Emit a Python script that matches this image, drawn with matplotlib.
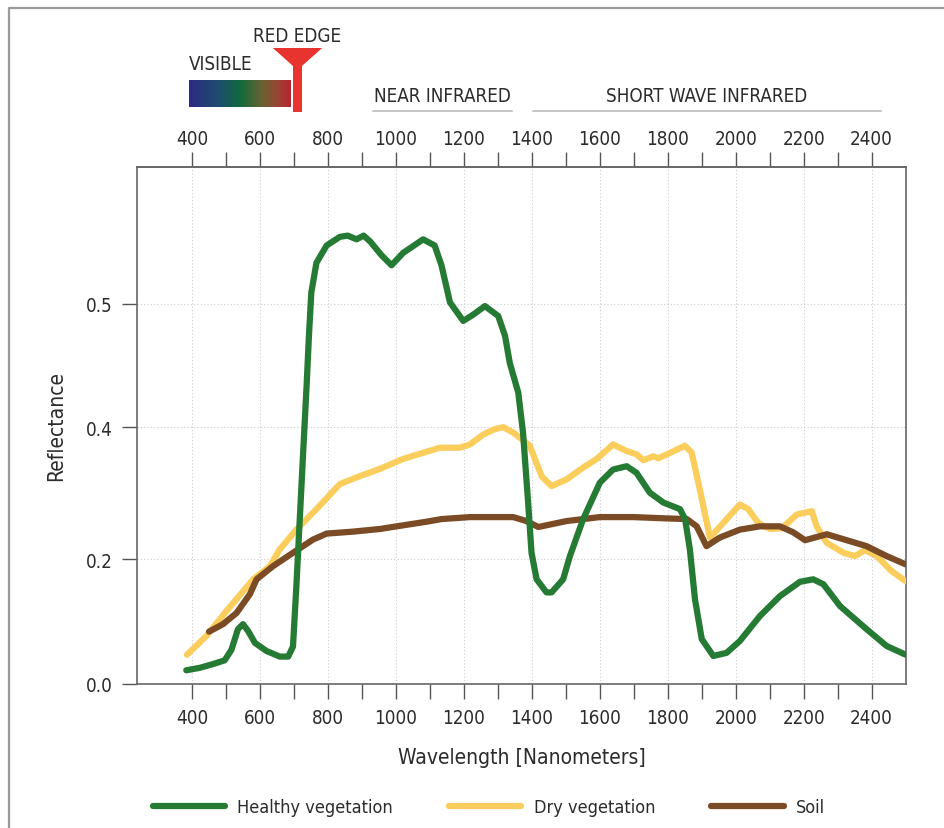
import numpy as np
import matplotlib
matplotlib.use("Agg")
import matplotlib.pyplot as plt
from matplotlib import font_manager
from matplotlib.colors import LinearSegmentedColormap
from matplotlib.lines import Line2D
from matplotlib.patches import Polygon, Rectangle
from matplotlib.ticker import FixedLocator, FixedFormatter
import matplotlib.transforms as mtransforms

# ---------------------------------------------------------------- data
healthy_nm = [383, 423, 462, 496, 516, 535, 550, 565, 585, 619, 658, 683, 697,
              707, 717, 727, 737, 744, 751, 766, 796, 835, 858, 884, 905, 925,
              958, 987, 1021, 1080, 1114, 1134, 1159, 1198, 1227, 1262, 1301,
              1321, 1335, 1360, 1374, 1389, 1399, 1414, 1443, 1458, 1492, 1512,
              1551, 1600, 1639, 1679, 1708, 1747, 1787, 1836, 1851, 1865, 1880,
              1900, 1934, 1973, 2012, 2071, 2130, 2189, 2228, 2258, 2307, 2385,
              2444, 2500]
healthy_refl = [0.022, 0.026, 0.032, 0.038, 0.055, 0.088, 0.096, 0.085, 0.066,
                0.053, 0.044, 0.044, 0.060, 0.157, 0.261, 0.362, 0.433, 0.474,
                0.509, 0.533, 0.547, 0.554, 0.555, 0.552, 0.555, 0.550, 0.539,
                0.531, 0.541, 0.552, 0.547, 0.531, 0.501, 0.486, 0.491, 0.498,
                0.490, 0.474, 0.452, 0.428, 0.392, 0.286, 0.210, 0.168, 0.147,
                0.147, 0.168, 0.205, 0.261, 0.316, 0.336, 0.341, 0.331, 0.301,
                0.286, 0.276, 0.261, 0.215, 0.136, 0.072, 0.045, 0.050, 0.069,
                0.109, 0.141, 0.164, 0.168, 0.160, 0.125, 0.088, 0.061, 0.047]

dry_nm = [385, 442, 501, 580, 629, 658, 707, 766, 835, 894, 953, 1021, 1129,
          1188, 1218, 1257, 1290, 1316, 1345, 1370, 1394, 1414, 1430, 1458,
          1502, 1551, 1591, 1639, 1679, 1708, 1728, 1757, 1772, 1806, 1850,
          1870, 1890, 1924, 1963, 2012, 2037, 2066, 2101, 2135, 2180, 2224,
          2238, 2268, 2317, 2351, 2380, 2415, 2459, 2500]
dry_refl = [0.047, 0.077, 0.117, 0.168, 0.189, 0.215, 0.245, 0.276, 0.314,
            0.326, 0.337, 0.352, 0.369, 0.369, 0.374, 0.389, 0.397, 0.400,
            0.392, 0.382, 0.372, 0.345, 0.325, 0.311, 0.321, 0.339, 0.352,
            0.374, 0.364, 0.359, 0.350, 0.356, 0.353, 0.361, 0.372, 0.362,
            0.316, 0.233, 0.255, 0.283, 0.276, 0.255, 0.246, 0.247, 0.268,
            0.273, 0.250, 0.225, 0.210, 0.205, 0.214, 0.205, 0.181, 0.165]

soil_nm = [450, 491, 531, 570, 590, 638, 697, 756, 796, 874, 953, 1002, 1090,
           1134, 1218, 1345, 1384, 1419, 1502, 1600, 1698, 1797, 1856, 1885,
           1914, 1953, 2012, 2071, 2130, 2169, 2204, 2268, 2346, 2385, 2444,
           2500]
soil_refl = [0.084, 0.096, 0.114, 0.144, 0.168, 0.189, 0.210, 0.230, 0.239,
             0.242, 0.246, 0.250, 0.257, 0.261, 0.264, 0.264, 0.258, 0.249,
             0.258, 0.264, 0.264, 0.262, 0.261, 0.250, 0.220, 0.233, 0.245,
             0.250, 0.250, 0.241, 0.229, 0.238, 0.226, 0.220, 0.205, 0.192]

series_labels = ["Healthy vegetation", "Dry vegetation", "Soil"]
series_colors = ["#257a34", "#fbcd5c", "#7b4b25"]

x_major = [400, 600, 800, 1000, 1200, 1400, 1600, 1800, 2000, 2200, 2400]
x_minor = [500, 700, 900, 1100, 1300, 1500, 1700, 1900, 2100, 2300]
y_ticks = [0.0, 0.2, 0.4, 0.5]
y_tick_labels = ["0.0", "0.2", "0.4", "0.5"]

# spectral bands (nm)
visible_band = (390, 690)
red_edge_nm = 710
nir_band = (932, 1341)
swir_band = (1403, 2427)

# ---------------------------------------------------------------- fonts
available = {f.name for f in font_manager.fontManager.ttflist}
if "Liberation Sans Narrow" in available:
    plt.rcParams["font.family"] = "Liberation Sans Narrow"
else:
    plt.rcParams["font.family"] = "DejaVu Sans"
    plt.rcParams["font.stretch"] = "condensed"

TXT = "#2b2b2b"
W, H = 944, 829
fig = plt.figure(figsize=(W / 100, H / 100), dpi=100)
ax = fig.add_axes([137 / W, 1 - 685 / H, (906 - 137) / W, (685 - 168) / H])

# y axis: tick values are spread at nearly even spacing
y_vals = [-1.0, 0.0, 0.2, 0.4, 0.5, 1.5]
y_pos = [-622.5, 0.0, 124.5, 256.5, 380.0, 1615.0]


def fwd(v):
    return np.interp(v, y_vals, y_pos)


def inv(p):
    return np.interp(p, y_pos, y_vals)


ax.set_yscale("function", functions=(fwd, inv))
ax.set_xlim(238, 2501)
ax.set_ylim(0.0, 0.6105)

for xs, ys, col, lab, z in [
    (dry_nm, dry_refl, series_colors[1], series_labels[1], 3),
    (soil_nm, soil_refl, series_colors[2], series_labels[2], 4),
    (healthy_nm, healthy_refl, series_colors[0], series_labels[0], 5),
]:
    ax.plot(xs, ys, color=col, lw=4.5, solid_capstyle="round",
            solid_joinstyle="round", zorder=z, label=lab)

# grid
for xv in x_major:
    ax.axvline(xv, color="#cccccc", lw=0.8, ls=(0, (1, 2)), zorder=1)
for yv in y_ticks[1:]:
    ax.axhline(yv, color="#cccccc", lw=0.8, ls=(0, (1, 2)), zorder=1)

# ticks
ax.xaxis.set_major_locator(FixedLocator(x_major))
ax.xaxis.set_minor_locator(FixedLocator(x_minor))
ax.yaxis.set_major_locator(FixedLocator(y_ticks))
ax.yaxis.set_major_formatter(FixedFormatter(y_tick_labels))
ax.yaxis.set_minor_locator(FixedLocator([]))
ax.tick_params(axis="both", which="both", direction="out", length=10.5,
               width=1.0, color="#555555", labelsize=13.5, labelcolor=TXT,
               pad=7)

top = ax.secondary_xaxis("top")
top.xaxis.set_major_locator(FixedLocator(x_major))
top.xaxis.set_minor_locator(FixedLocator(x_minor))
top.tick_params(axis="x", which="both", direction="out", length=10.5,
                width=1.0, color="#555555", labelsize=13.5, labelcolor=TXT,
                pad=3)
top.spines["top"].set_color("#666666")
top.spines["top"].set_linewidth(1.2)

for s in ax.spines.values():
    s.set_color("#666666")
    s.set_linewidth(1.2)

ax.set_xlabel("Wavelength [Nanometers]", fontsize=15, color=TXT, labelpad=14)
ax.set_ylabel("Reflectance", fontsize=15, color=TXT, labelpad=14)

# legend
handles = [Line2D([], [], color=c, lw=4.5, solid_capstyle="round")
           for c in series_colors]
fig.legend(handles, series_labels, loc="center", bbox_to_anchor=(0.518, 0.025),
           ncol=3, frameon=False, fontsize=13, handlelength=4.0,
           handletextpad=0.7, columnspacing=3.1, labelcolor=TXT)

# spectral band annotations above the top axis
bt = mtransforms.blended_transform_factory(ax.transData, fig.transFigure)


def fy(py):
    return 1 - py / H


grad = LinearSegmentedColormap.from_list(
    "vis", [(0.0, "#2d2a82"), (0.3, "#1e4e6e"), (0.5, "#0f6a3c"),
            (0.72, "#6b6234"), (0.87, "#9a4434"), (1.0, "#b7242e")])
x0 = ax.transData.transform((visible_band[0], 0))[0]
x1 = ax.transData.transform((visible_band[1], 0))[0]
gax = fig.add_axes([x0 / W, fy(108), (x1 - x0) / W, 27 / H])
gax.imshow(np.linspace(0, 1, 256)[None, :], aspect="auto", cmap=grad,
           extent=(0, 1, 0, 1))
gax.set_axis_off()

fig.text(visible_band[0], fy(65), "VISIBLE", transform=bt, ha="left",
         va="center", fontsize=13.5, color=TXT)

tri = Polygon([(red_edge_nm - 72, fy(49)), (red_edge_nm + 73, fy(49)),
               (red_edge_nm, fy(71))], closed=True, transform=bt,
              facecolor="#e8342e", edgecolor="none")
stem = Rectangle((red_edge_nm - 13, fy(113)), 26, fy(60) - fy(113),
                 transform=bt, facecolor="#e8342e", edgecolor="none")
fig.add_artist(tri)
fig.add_artist(stem)
fig.text(red_edge_nm, fy(36), "RED EDGE", transform=bt, ha="center",
         va="center", fontsize=13.5, color=TXT)

for (a, b), name in [(nir_band, "NEAR INFRARED"),
                     (swir_band, "SHORT WAVE INFRARED")]:
    fig.add_artist(Line2D([a, b], [fy(112), fy(112)], transform=bt,
                          color="#bdbdbd", lw=1.2))
    fig.text((a + b) / 2, fy(96), name, transform=bt, ha="center",
             va="center", fontsize=13.5, color=TXT)

# outer frame (left and top edges)
fig.add_artist(Line2D([9 / W, 9 / W, 1.0], [0.0, fy(9), fy(9)],
                      transform=fig.transFigure, color="#9a9a9a", lw=1.6))

fig.savefig("out.png", dpi=100, facecolor="white")
